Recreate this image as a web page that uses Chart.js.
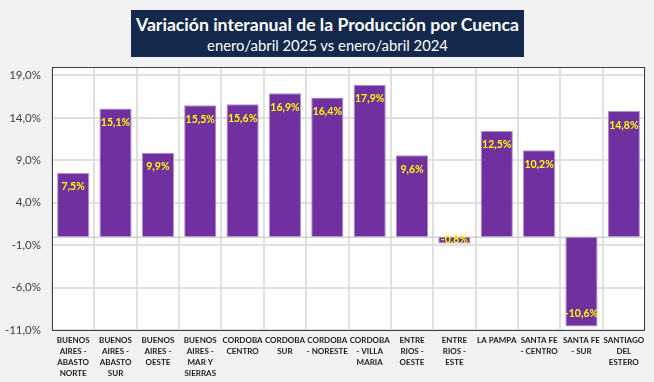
<!DOCTYPE html>
<html>
<head>
<meta charset="utf-8">
<script src="https://cdn.jsdelivr.net/npm/chart.js@4"></script>
<style>
  body { margin: 0; background: #f2f2f2; font-family: Lato, "Open Sans", sans-serif; }
  #wrap { position: relative; width: 654px; height: 382px; }
  #titulo {
    position: absolute; left: 131px; top: 10px; width: 393px; height: 47px;
    background: #13284a; color: #fff; text-align: center; z-index: 2; overflow: hidden;
  }
  #titulo div { white-space: nowrap; }
  #titulo .t1 { font-size: 19px; font-weight: bold; margin-top: 3px; line-height: 23px; }
  #titulo .t2 { font-size: 15px; line-height: 18px; }
</style>
</head>
<body>
<div id="wrap">
  <div id="titulo">
    <div class="t1"><span id="s1">Variación interanual de la Producción por Cuenca</span></div>
    <div class="t2"><span id="s2">enero/abril 2025 vs enero/abril 2024</span></div>
  </div>
  <canvas id="myChart" width="654" height="382"></canvas>
</div>
<script>
// cuencas (cada etiqueta partida en renglones como en el original)
var cuencas = [
  ["BUENOS", "AIRES -", "ABASTO", "NORTE"],
  ["BUENOS", "AIRES -", "ABASTO", "SUR"],
  ["BUENOS", "AIRES -", "OESTE"],
  ["BUENOS", "AIRES -", "MAR Y", "SIERRAS"],
  ["CORDOBA", "CENTRO"],
  ["CORDOBA", "SUR"],
  ["CORDOBA", "- NORESTE"],
  ["CORDOBA", "- VILLA", "MARIA"],
  ["ENTRE", "RIOS -", "OESTE"],
  ["ENTRE", "RIOS -", "ESTE"],
  ["LA PAMPA"],
  ["SANTA FE", "- CENTRO"],
  ["SANTA FE", "- SUR"],
  ["SANTIAGO", "DEL", "ESTERO"]
];
var variacion = [7.5, 15.1, 9.9, 15.5, 15.6, 16.9, 16.4, 17.9, 9.6, -0.8, 12.5, 10.2, -10.6, 14.8];
var ticksY = [-11, -6, -1, 4, 9, 14, 19];

// achicar la letra del titulo hasta el ancho del original (Calibri es mas angosta)
function ajustar(id, ancho, tam) {
  var s = document.getElementById(id);
  var w = s.getBoundingClientRect().width;
  if (w > ancho) s.parentNode.style.fontSize = (tam * ancho / w).toFixed(2) + 'px';
}
ajustar('s1', 383, 19);
ajustar('s2', 241, 15);

function pct(v) {
  return v.toFixed(1).replace('.', ',') + '%';
}

// fondo blanco, borde del area, linea del cero y etiquetas de datos
var extras = {
  id: 'extras',
  beforeDraw: function(chart) {
    var a = chart.chartArea, ctx = chart.ctx;
    ctx.save();
    ctx.fillStyle = '#ffffff';
    ctx.fillRect(a.left, a.top, a.right - a.left, a.bottom - a.top);
    ctx.restore();
  },
  afterDatasetsDraw: function(chart) {
    var a = chart.chartArea, ctx = chart.ctx;
    var y0 = chart.scales.y.getPixelForValue(0);
    ctx.save();
    ctx.strokeStyle = '#bfbfbf';
    ctx.lineWidth = 1;
    ctx.beginPath();
    ctx.moveTo(a.left, y0 + 0.5);
    ctx.lineTo(a.right, y0 + 0.5);
    ctx.stroke();
    ctx.strokeStyle = '#404040';
    ctx.strokeRect(a.left + 0.5, a.top + 0.5, a.right - a.left - 1, a.bottom - a.top);

    ctx.font = 'bold 10.5px Lato';
    ctx.fillStyle = '#ffff00';
    ctx.textAlign = 'center';
    ctx.textBaseline = 'middle';
    var meta = chart.getDatasetMeta(0);
    meta.data.forEach(function(bar, i) {
      var v = variacion[i];
      var y;
      if (Math.abs(bar.y - bar.base) < 20) y = (bar.y + bar.base) / 2;
      else if (v >= 0) y = bar.y + 14;
      else y = bar.y - 13;
      ctx.fillText(pct(v), bar.x, y);
    });
    ctx.restore();
  }
};

var ctx = document.getElementById("myChart").getContext("2d");
var myChart = new Chart(ctx, {
  type: 'bar',
  data: {
    labels: cuencas,
    datasets: [{
      data: variacion,
      backgroundColor: '#7030a0',
      borderColor: '#b48fd0',
      borderWidth: 1,
      categoryPercentage: 0.76,
      barPercentage: 1
    }]
  },
  options: {
    responsive: false,
    animation: false,
    layout: { padding: { top: 67, right: 9, left: 0, bottom: 0 } },
    plugins: { legend: { display: false }, tooltip: { enabled: false } },
    scales: {
      y: {
        min: -11,
        max: 20,
        afterBuildTicks: function(axis) {
          axis.ticks = ticksY.map(function(v) { return { value: v }; });
        },
        afterFit: function(axis) { axis.width = 52; },
        border: { display: false },
        grid: { color: '#e0e0e0', lineWidth: 2, drawTicks: false },
        ticks: {
          padding: 11,
          color: '#404040',
          font: { family: 'Lato', size: 11.5 },
          callback: function(v) { return pct(v); }
        }
      },
      x: {
        afterFit: function(axis) { axis.height = 52; },
        border: { display: false },
        grid: { color: '#e0e0e0', lineWidth: 2, drawTicks: false, offset: true },
        ticks: {
          padding: 5,
          maxRotation: 0,
          autoSkip: false,
          color: '#1a1a1a',
          font: { family: 'Lato', size: 8, weight: 'bold', lineHeight: 1.375 }
        }
      }
    }
  },
  plugins: [extras]
});
</script>
</body>
</html>
